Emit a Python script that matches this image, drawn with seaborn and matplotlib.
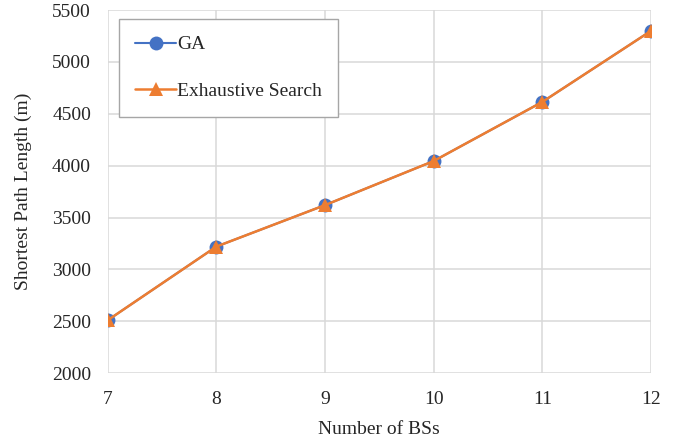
import pandas as pd
import numpy as np
import matplotlib
matplotlib.use("Agg")
import matplotlib.pyplot as plt
import seaborn as sns

sns.set_style("whitegrid")
plt.rcParams["font.family"] = ["Liberation Serif", "DejaVu Serif"]

num_bs = [7, 8, 9, 10, 11, 12]
ga = [2510, 3220, 3620, 4045, 4615, 5300]
exhaustive = [2510, 3220, 3620, 4045, 4615, 5300]

df = pd.DataFrame({"x": num_bs * 2,
                   "y": ga + exhaustive,
                   "method": ["GA"] * 6 + ["Exhaustive Search"] * 6})

fig = plt.figure(figsize=(6.86, 4.4), dpi=100)
ax = fig.add_axes([0.157, 0.152, 0.792, 0.825])

sns.lineplot(data=df[df.method == "GA"], x="x", y="y", color="#4472C4",
             marker="o", markersize=10, markeredgewidth=0, linewidth=1.5,
             label="GA", ax=ax)
sns.lineplot(data=df[df.method == "Exhaustive Search"], x="x", y="y",
             color="#ED7D31", marker="^", markersize=10, markeredgewidth=0,
             linewidth=1.8, label="Exhaustive Search", ax=ax)

ax.set_xlim(7, 12)
ax.set_ylim(2000, 5500)
ax.set_xticks(num_bs)
ax.set_yticks(np.arange(2000, 5501, 500))
ax.grid(True, color="#D9D9D9", linewidth=1.1)
for s in ax.spines.values():
    s.set_visible(False)
ax.tick_params(axis="x", length=0, labelsize=14, pad=13)
ax.tick_params(axis="y", length=0, labelsize=14, pad=12)
ax.set_xlabel("Number of BSs", fontsize=14, labelpad=9)
ax.set_ylabel("Shortest Path Length (m)", fontsize=14, labelpad=14)

leg = ax.legend(loc="upper left", bbox_to_anchor=(0.02, 0.975), fontsize=14,
                frameon=True, fancybox=False, edgecolor="#A6A6A6",
                framealpha=1, labelspacing=1.5, borderpad=0.85,
                handlelength=2.1, handletextpad=0.05, borderaxespad=0)
leg.get_frame().set_linewidth(1.0)

fig.savefig("out.png", dpi=100)
